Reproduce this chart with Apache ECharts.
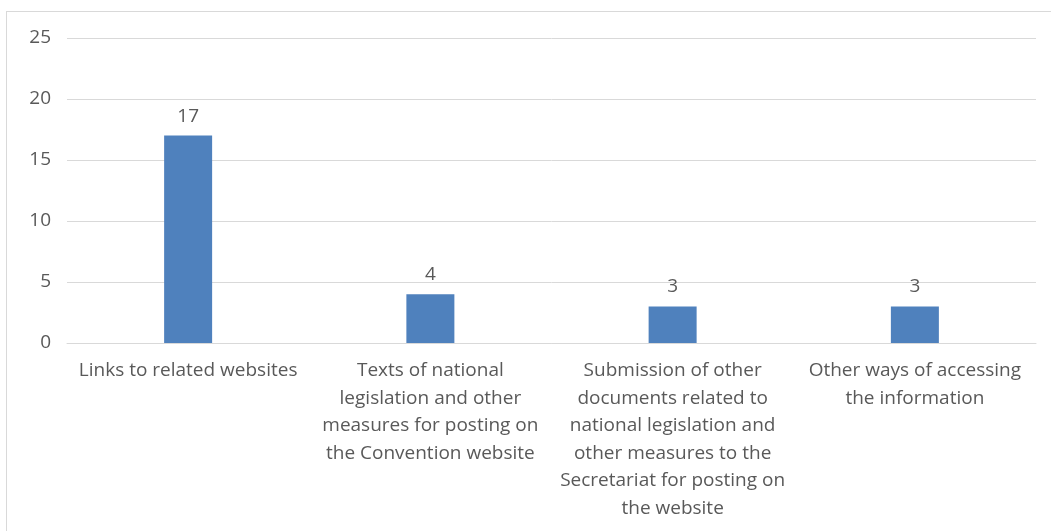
<!doctype html>
<html lang="en">
<head>
    <meta charset="UTF-8">
    <title>Chart</title>
    <script src="https://cdn.jsdelivr.net/npm/echarts@6/dist/echarts.min.js"></script>
    <style>
        html, body { margin: 0; padding: 0; background: #fff; }
        #frame { position: absolute; left: 6px; top: 11px; width: 1060px; height: 540px; border: 1px solid #d9d9d9; box-sizing: border-box; }
        #chart { position: absolute; left: 0; top: 0; width: 1051px; height: 531px; }
    </style>
</head>
<body>
<div id="frame"></div>
<div id="chart"></div>
<script>
    // categories (wrapped as in the original)
    var categories = [
        'Links to related websites',
        'Texts of national\nlegislation and other\nmeasures for posting on\nthe Convention website',
        'Submission of other\ndocuments related to\nnational legislation and\nother measures to the\nSecretariat for posting on\nthe website',
        'Other ways of accessing\nthe information'
    ];
    var values = [17, 4, 3, 3];
    var yTicks = [0, 5, 10, 15, 20, 25];

    var textColor = '#595959';
    var font = '"Open Sans", "Liberation Sans", sans-serif';

    var myChart = echarts.init(document.getElementById('chart'));
    var option = {
        animation: false,
        grid: { left: 67, right: 15, top: 38, bottom: 188 },
        xAxis: {
            type: 'category',
            data: categories,
            axisTick: { show: false },
            axisLine: { lineStyle: { color: '#d9d9d9', width: 1 } },
            axisLabel: {
                color: textColor, fontSize: 19, fontFamily: font,
                lineHeight: 27.5, margin: 14, interval: 0, align: 'center'
            }
        },
        yAxis: {
            type: 'value',
            min: yTicks[0],
            max: yTicks[yTicks.length - 1],
            interval: 5,
            axisLine: { show: false },
            axisTick: { show: false },
            splitLine: { lineStyle: { color: '#d9d9d9', width: 1 } },
            axisLabel: { color: textColor, fontSize: 19, fontFamily: font, margin: 16 }
        },
        series: [{
            type: 'bar',
            data: values,
            barWidth: 48,
            itemStyle: { color: '#4f81bd' },
            label: {
                show: true, position: 'top', distance: 10,
                color: textColor, fontSize: 19, fontFamily: font
            }
        }]
    };
    myChart.setOption(option);
</script>
</body>
</html>
